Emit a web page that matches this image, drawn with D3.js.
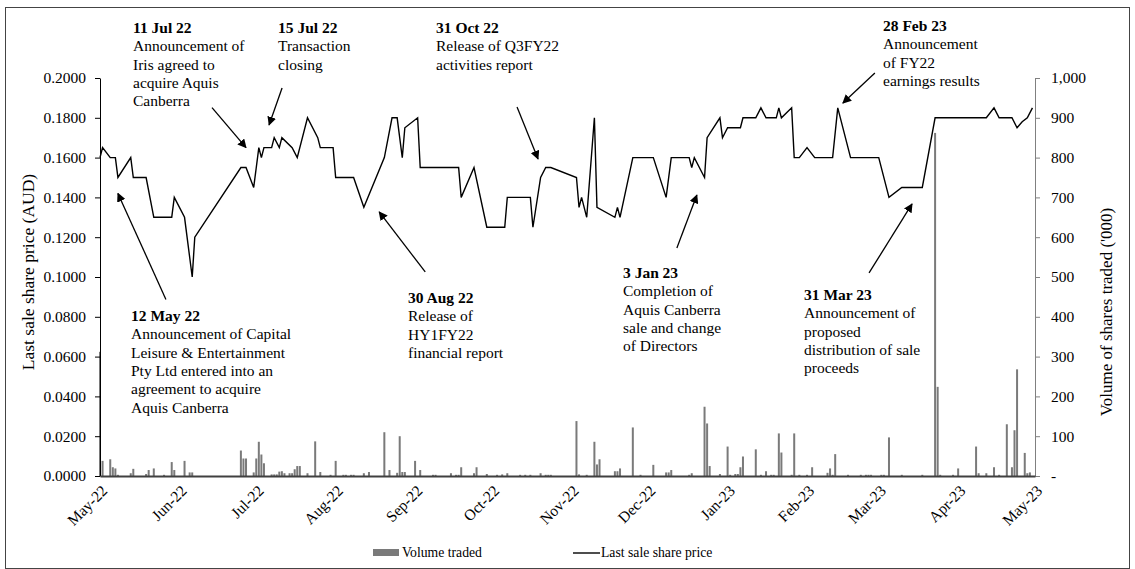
<!DOCTYPE html>
<html><head><meta charset="utf-8">
<script src="https://cdn.jsdelivr.net/npm/d3@7"></script>
<style>
html,body{margin:0;padding:0;background:#fff;}
svg{display:block;font-family:"Liberation Serif","Times New Roman",serif;}
</style></head><body>
<svg id="chart" width="1135" height="569"></svg>
<script>
// ---------- DATA ----------
const priceSeries = [
["2022-05-01",0.160],["2022-05-02",0.165],["2022-05-05",0.160],["2022-05-07",0.160],["2022-05-08",0.150],
["2022-05-13",0.160],["2022-05-14",0.150],["2022-05-19",0.150],["2022-05-22",0.130],["2022-05-29",0.130],
["2022-05-30",0.140],["2022-06-03",0.130],["2022-06-06",0.100],["2022-06-07",0.120],["2022-06-25",0.155],
["2022-06-27",0.155],["2022-06-30",0.145],["2022-07-02",0.165],["2022-07-03",0.160],["2022-07-04",0.165],
["2022-07-07",0.165],["2022-07-08",0.170],["2022-07-10",0.165],["2022-07-11",0.170],["2022-07-15",0.165],
["2022-07-17",0.160],["2022-07-21",0.180],["2022-07-25",0.170],["2022-07-26",0.165],["2022-07-31",0.165],
["2022-08-01",0.150],["2022-08-08",0.150],["2022-08-12",0.135],["2022-08-20",0.160],["2022-08-23",0.180],
["2022-08-25",0.180],["2022-08-27",0.160],["2022-08-28",0.175],["2022-09-02",0.180],["2022-09-03",0.155],
["2022-09-18",0.155],["2022-09-19",0.140],["2022-09-24",0.155],["2022-09-29",0.125],["2022-10-06",0.125],
["2022-10-07",0.140],["2022-10-16",0.140],["2022-10-17",0.125],["2022-10-20",0.150],["2022-10-22",0.155],
["2022-10-24",0.155],["2022-11-03",0.150],["2022-11-04",0.135],["2022-11-05",0.140],["2022-11-07",0.130],
["2022-11-10",0.180],["2022-11-11",0.135],["2022-11-18",0.130],["2022-11-19",0.135],["2022-11-20",0.130],
["2022-11-25",0.160],["2022-12-03",0.160],["2022-12-08",0.140],["2022-12-10",0.160],["2022-12-17",0.160],
["2022-12-18",0.155],["2022-12-19",0.160],["2022-12-23",0.150],["2022-12-24",0.170],["2022-12-29",0.180],
["2022-12-30",0.170],["2023-01-01",0.175],["2023-01-06",0.175],["2023-01-07",0.180],["2023-01-12",0.180],
["2023-01-14",0.185],["2023-01-16",0.180],["2023-01-20",0.180],["2023-01-21",0.185],["2023-01-22",0.180],
["2023-01-26",0.185],["2023-01-27",0.160],["2023-01-29",0.160],["2023-02-01",0.165],["2023-02-04",0.160],
["2023-02-11",0.160],["2023-02-13",0.185],["2023-02-18",0.160],["2023-03-01",0.160],["2023-03-05",0.140],
["2023-03-10",0.145],["2023-03-18",0.145],["2023-03-23",0.180],["2023-04-12",0.180],["2023-04-15",0.185],
["2023-04-17",0.180],["2023-04-22",0.180],["2023-04-24",0.175],["2023-04-26",0.178],["2023-04-28",0.180],
["2023-04-30",0.185]
];

const volumeSeries = [
["2022-05-01",312],["2022-05-02",38],["2022-05-05",42],["2022-05-06",22],["2022-05-07",19],["2022-05-08",3],
["2022-05-13",7],["2022-05-14",18],["2022-05-19",5],["2022-05-20",15],["2022-05-22",19],["2022-05-26",3],
["2022-05-29",35],["2022-05-30",15],["2022-06-03",38],["2022-06-05",9],["2022-06-06",9],
["2022-06-25",64],["2022-06-26",44],["2022-06-27",44],["2022-06-30",9],["2022-07-01",44],["2022-07-02",86],
["2022-07-03",54],["2022-07-04",32],["2022-07-07",4],["2022-07-08",4],["2022-07-09",4],["2022-07-10",11],
["2022-07-11",12],["2022-07-12",7],["2022-07-14",7],["2022-07-15",7],["2022-07-16",17],["2022-07-17",25],
["2022-07-18",25],["2022-07-21",7],["2022-07-24",87],["2022-07-26",10],["2022-07-30",3],["2022-08-01",38],
["2022-08-04",3],["2022-08-05",3],["2022-08-07",3],["2022-08-08",3],["2022-08-12",7],["2022-08-14",10],
["2022-08-20",110],["2022-08-22",15],["2022-08-25",8],["2022-08-26",100],["2022-08-27",10],["2022-08-28",10],
["2022-09-01",38],["2022-09-03",15],["2022-09-08",3],["2022-09-09",3],["2022-09-15",7],["2022-09-17",3],
["2022-09-18",3],["2022-09-19",22],["2022-09-24",7],["2022-09-25",22],["2022-09-29",5],["2022-10-03",3],
["2022-10-05",4],["2022-10-07",7],["2022-10-12",3],["2022-10-14",3],["2022-10-16",3],["2022-10-20",7],
["2022-10-22",3],["2022-10-23",3],["2022-10-24",3],["2022-11-03",138],["2022-11-04",4],["2022-11-07",3],
["2022-11-10",86],["2022-11-11",29],["2022-11-12",42],["2022-11-18",12],["2022-11-19",12],["2022-11-20",19],
["2022-11-25",122],["2022-11-28",3],["2022-12-03",28],["2022-12-08",9],["2022-12-09",9],["2022-12-10",15],
["2022-12-17",3],["2022-12-18",7],["2022-12-23",174],["2022-12-24",132],["2022-12-25",25],["2022-12-29",5],
["2023-01-01",74],["2023-01-02",3],["2023-01-04",5],["2023-01-05",5],["2023-01-06",22],["2023-01-07",49],
["2023-01-12",67],["2023-01-14",3],["2023-01-16",12],["2023-01-18",3],["2023-01-19",3],["2023-01-21",107],
["2023-01-22",59],["2023-01-26",3],["2023-01-27",107],["2023-01-29",3],["2023-02-01",3],["2023-02-03",22],
["2023-02-09",8],["2023-02-10",19],["2023-02-11",3],["2023-02-12",55],["2023-02-17",3],["2023-02-22",3],
["2023-02-24",3],["2023-02-25",3],["2023-02-26",3],["2023-03-02",3],["2023-03-03",3],["2023-03-05",97],
["2023-03-10",3],["2023-03-18",3],["2023-03-23",862],["2023-03-24",224],["2023-03-25",3],["2023-03-30",3],
["2023-04-01",19],["2023-04-08",74],["2023-04-09",7],["2023-04-12",7],["2023-04-15",22],["2023-04-17",3],
["2023-04-20",130],["2023-04-22",22],["2023-04-23",115],["2023-04-24",268],["2023-04-27",58],["2023-04-28",7],
["2023-04-29",9]
];

const priceTicks = [0,0.02,0.04,0.06,0.08,0.10,0.12,0.14,0.16,0.18,0.20];
const volumeTicks = [0,100,200,300,400,500,600,700,800,900,1000];
const monthTicks = ["2022-05-01","2022-06-01","2022-07-01","2022-08-01","2022-09-01","2022-10-01",
  "2022-11-01","2022-12-01","2023-01-01","2023-02-01","2023-03-01","2023-04-01","2023-05-01"];
const axisTitles = {left:"Last sale share price (AUD)", right:"Volume of shares traded ('000)"};
const legendLabels = ["Volume traded","Last sale share price"];

const annotationTitles = ["12 May 22","11 Jul 22","15 Jul 22","30 Aug 22","31 Oct 22","3 Jan 23","28 Feb 23","31 Mar 23"];
const annotationTexts = [
  ["Announcement of Capital","Leisure & Entertainment","Pty Ltd entered into an","agreement to acquire","Aquis Canberra"],
  ["Announcement of","Iris agreed to","acquire Aquis","Canberra"],
  ["Transaction","closing"],
  ["Release of","HY1FY22","financial report"],
  ["Release of Q3FY22","activities report"],
  ["Completion of","Aquis Canberra","sale and change","of Directors"],
  ["Announcement","of FY22","earnings results"],
  ["Announcement of","proposed","distribution of sale","proceeds"]
];
// arrow tip in data space
const annotationTipDates = ["2022-05-08","2022-06-27","2022-07-06","2022-08-18","2022-10-19","2022-12-20","2023-02-15","2023-03-14"];
const annotationTipPrices = [0.142,0.165,0.1764,0.1327,0.1593,0.1412,0.1874,0.1367];

// ---------- LAYOUT ----------
const L=100,R=1035,T=78,B=476;
const FONT=15.5, LH=18.3;
// text block position [x, first baseline], arrow tail offset from tip [dx,dy]
const annLayout = [
  {tx:131, ty:321, dx:48, dy:106},
  {tx:133, ty:33, dx:-34, dy:-40},
  {tx:278, ty:33, dx:13, dy:-37},
  {tx:408, ty:303, dx:46, dy:60},
  {tx:436, ty:33, dx:-21, dy:-52},
  {tx:623, ty:278, dx:-20, dy:53},
  {tx:883, ty:31, dx:32, dy:-30},
  {tx:804, ty:300, dx:-43, dy:69}
];

const parse = d3.utcParse("%Y-%m-%d");
const svg = d3.select("#chart");
const x = d3.scaleUtc().domain([parse(monthTicks[0]), parse(monthTicks[monthTicks.length-1])]).range([L,R]);
const yP = d3.scaleLinear().domain([0,0.2]).range([B,T]);
const yV = d3.scaleLinear().domain([0,1000]).range([B,T]);

// outer border
svg.append("rect").attr("x",5.5).attr("y",7.5).attr("width",1124).attr("height",561)
  .attr("fill","none").attr("stroke","#444").attr("stroke-width",1);

// bars
svg.append("g").selectAll("rect").data(volumeSeries).join("rect")
  .attr("x", d=>x(parse(d[0]))-1).attr("width",2)
  .attr("y", d=>yV(d[1])).attr("height", d=>B-yV(d[1]))
  .attr("fill","#7a7a7a");

// price line
const line = d3.line().x(d=>x(parse(d[0]))).y(d=>yP(d[1]));
svg.append("path").datum(priceSeries).attr("d",line)
  .attr("fill","none").attr("stroke","#000").attr("stroke-width",1.4).attr("stroke-linejoin","miter");

// left axis
const gl = svg.append("g").attr("transform",`translate(${L},0)`)
  .call(d3.axisLeft(yP).tickValues(priceTicks).tickFormat(d3.format(".4f")).tickSize(5).tickSizeOuter(0).tickPadding(9));
gl.selectAll("text").attr("font-size",FONT).attr("font-family","Liberation Serif").attr("fill","#000");
gl.select(".domain").attr("stroke","#000");
gl.selectAll(".tick line").attr("stroke","#000");

// right axis
const gr = svg.append("g").attr("transform",`translate(${R},0)`)
  .call(d3.axisRight(yV).tickValues(volumeTicks).tickFormat(d=>d===0?"-":d3.format(",")(d)).tickSize(5).tickSizeOuter(0).tickPadding(11));
gr.selectAll("text").attr("font-size",FONT).attr("font-family","Liberation Serif").attr("fill","#000");
gr.select(".domain").attr("stroke","#808080");
gr.selectAll(".tick line").attr("stroke","#808080");

// x axis
const gx = svg.append("g").attr("transform",`translate(0,${B})`)
  .call(d3.axisBottom(x).tickValues(monthTicks.map(parse)).tickFormat(d3.utcFormat("%b-%y")).tickSize(0).tickSizeOuter(0));
gx.select(".domain").attr("stroke","#404040").attr("stroke-width",2);
gx.selectAll("text").attr("font-size",FONT).attr("font-family","Liberation Serif").attr("fill","#000")
  .attr("text-anchor","end").attr("dy","0.35em")
  .attr("transform","translate(4,12) rotate(-45)").attr("y",0).attr("x",0);

// axis titles
svg.append("text").attr("transform",`translate(28,272) rotate(-90)`)
  .attr("text-anchor","middle").attr("dy","0.35em").attr("font-size",17.5).text(axisTitles.left);
svg.append("text").attr("transform",`translate(1106,312) rotate(-90)`)
  .attr("text-anchor","middle").attr("dy","0.35em").attr("font-size",17).text(axisTitles.right);

// legend
const LF = 13.7;
svg.append("rect").attr("x",373).attr("y",549).attr("width",26).attr("height",7).attr("fill","#7a7a7a");
svg.append("text").attr("x",402).attr("y",557).attr("font-size",LF).text(legendLabels[0]);
svg.append("line").attr("x1",573).attr("x2",600).attr("y1",553).attr("y2",553).attr("stroke","#000").attr("stroke-width",1.4);
svg.append("text").attr("x",601).attr("y",557).attr("font-size",LF).text(legendLabels[1]);

// arrow marker
svg.append("defs").append("marker").attr("id","arr").attr("viewBox","0 0 10 10")
  .attr("refX",9).attr("refY",5).attr("markerWidth",9).attr("markerHeight",9)
  .attr("markerUnits","userSpaceOnUse").attr("orient","auto")
  .append("path").attr("d","M0,0 L10,5 L0,10 z").attr("fill","#000");

// annotations
annotationTitles.forEach((title,i)=>{
  const lay = annLayout[i];
  const tx = x(parse(annotationTipDates[i])), ty = yP(annotationTipPrices[i]);
  svg.append("line").attr("x1",tx+lay.dx).attr("y1",ty+lay.dy).attr("x2",tx).attr("y2",ty)
    .attr("stroke","#000").attr("stroke-width",1.3).attr("marker-end","url(#arr)");
  const t = svg.append("text").attr("font-size",FONT).attr("fill","#000");
  t.append("tspan").attr("x",lay.tx).attr("y",lay.ty).attr("font-weight","bold").text(title);
  annotationTexts[i].forEach((s,j)=>{
    t.append("tspan").attr("x",lay.tx).attr("y",lay.ty+LH*(j+1)).text(s);
  });
});
</script>
</body></html>
